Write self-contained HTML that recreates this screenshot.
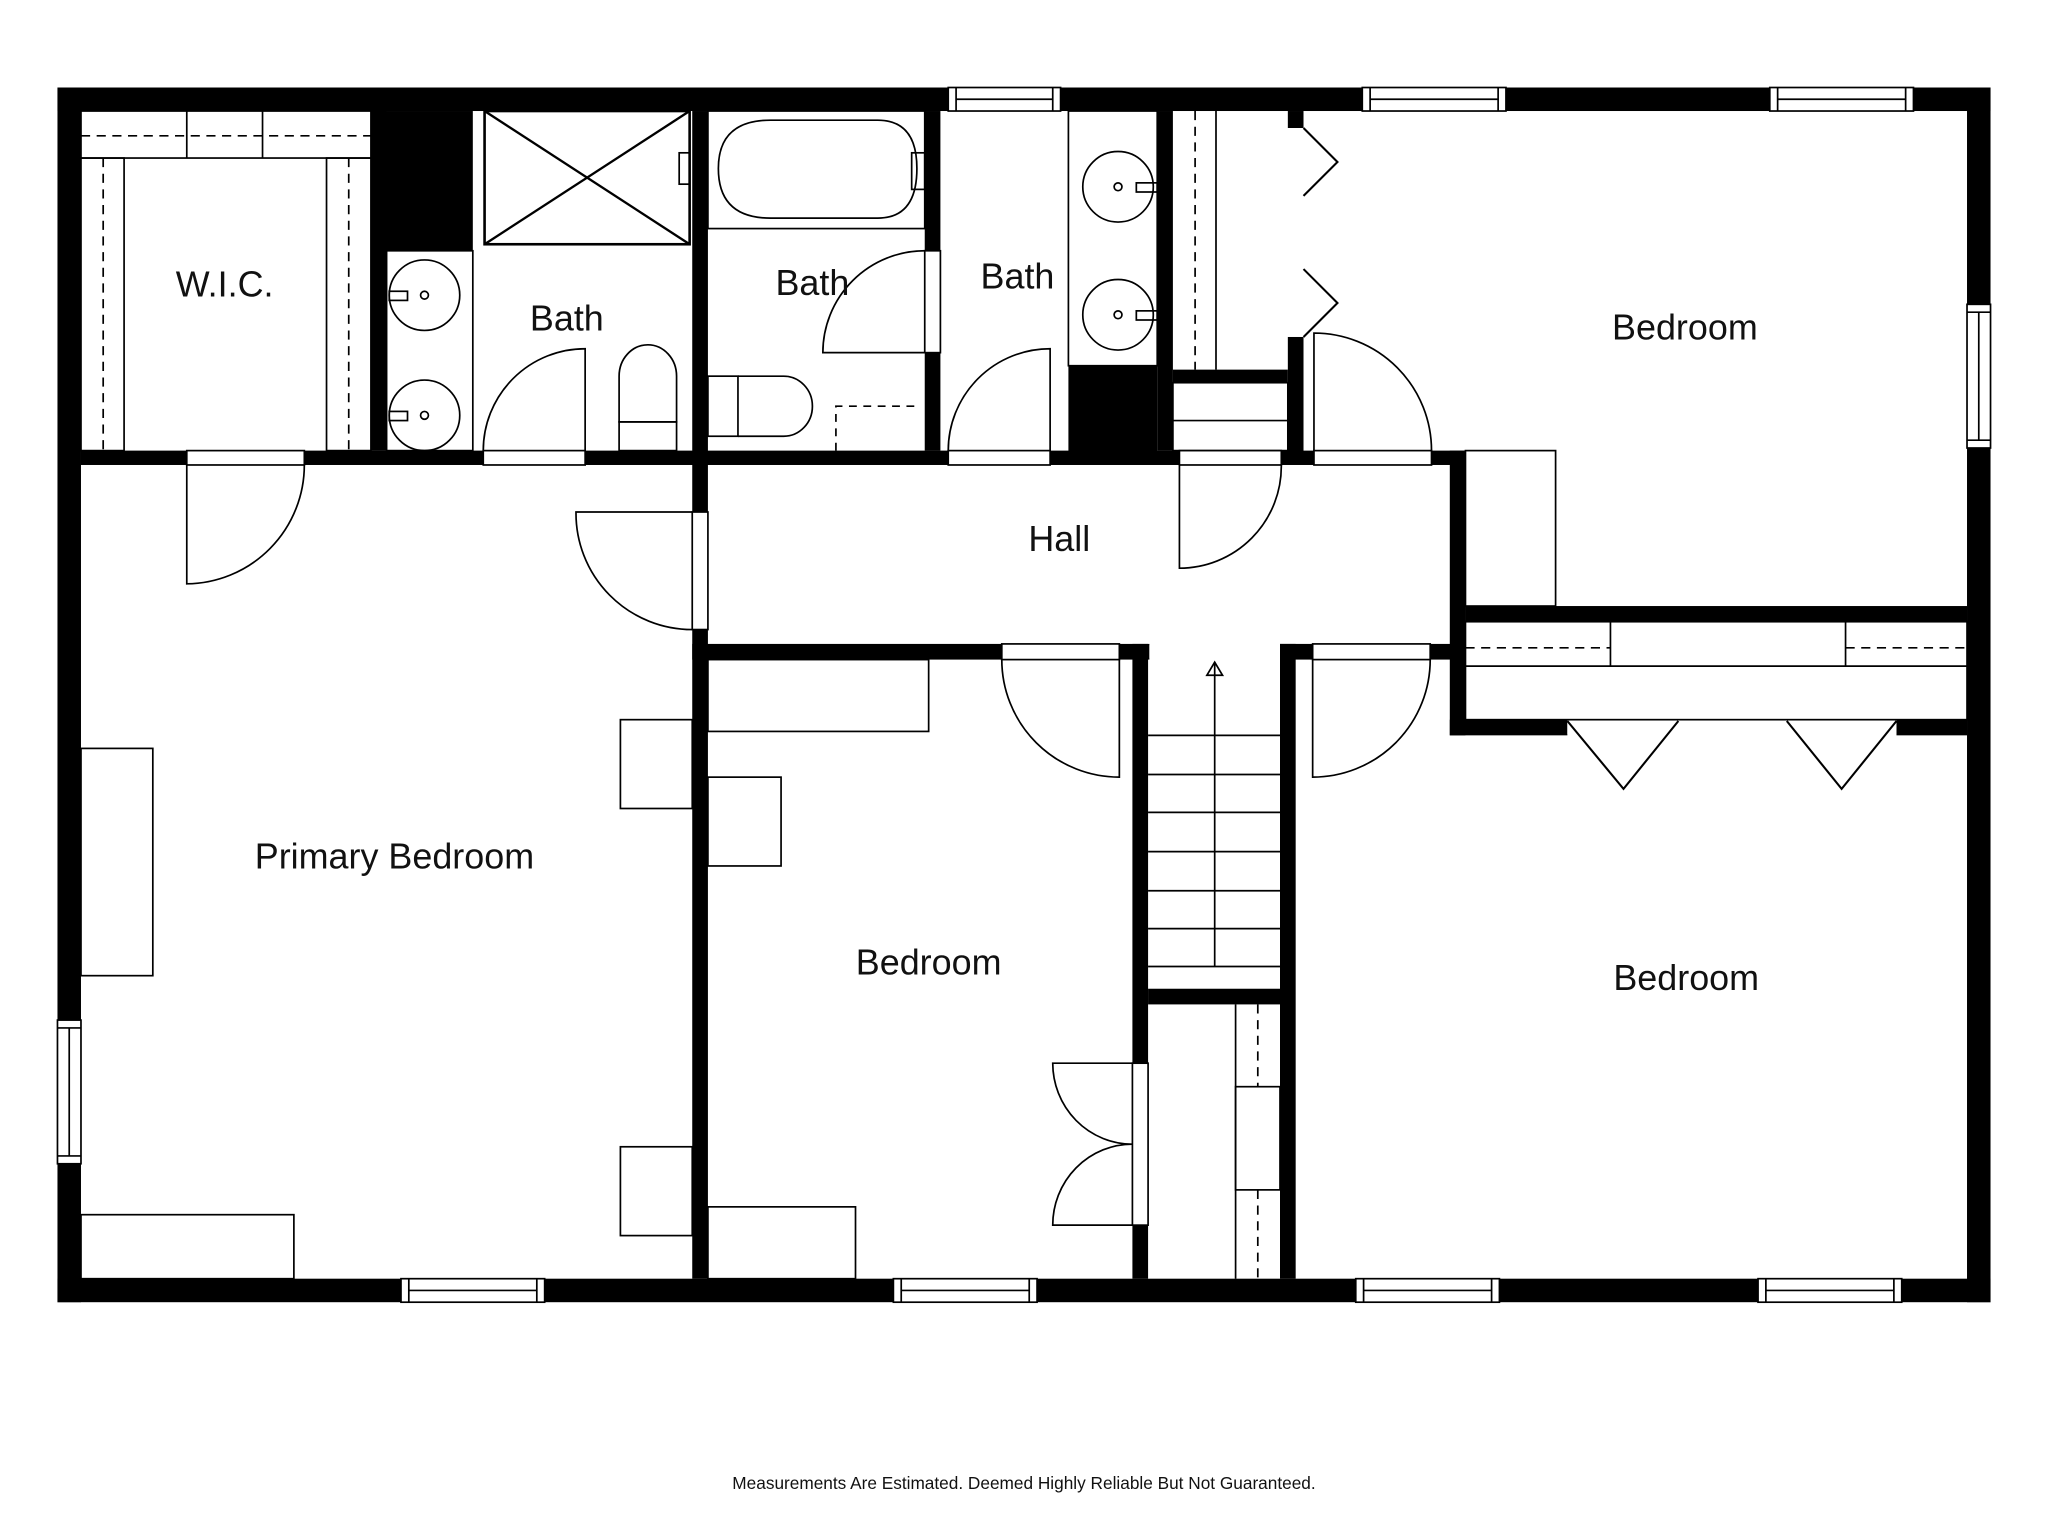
<!DOCTYPE html>
<html><head><meta charset="utf-8"><style>html,body{margin:0;padding:0;background:#fff}svg{display:block}text{font-family:"Liberation Sans",sans-serif;fill:#111}</style></head><body>
<svg width="2048" height="1536" viewBox="0 0 1568 1176" xmlns="http://www.w3.org/2000/svg">
<rect width="1568" height="1176" fill="#fff"/>
<g fill="none" stroke="#000" stroke-width="1.3">
<rect x="62" y="85" width="222" height="36"/><line x1="143" y1="85" x2="143" y2="121"/><line x1="201" y1="85" x2="201" y2="121"/>
<line x1="62" y1="104" x2="284" y2="104" stroke-dasharray="7,5"/>
<rect x="62" y="121" width="33" height="224"/><rect x="250" y="121" width="34" height="224"/>
<line x1="79" y1="121" x2="79" y2="345" stroke-dasharray="7,5"/><line x1="267" y1="121" x2="267" y2="345" stroke-dasharray="7,5"/>
<rect x="296" y="192" width="66" height="153"/>
<circle cx="325" cy="226" r="27"/><circle cx="325" cy="318" r="27"/><circle cx="325" cy="226" r="3"/><circle cx="325" cy="318" r="3"/>
<rect x="298" y="223" width="14" height="7"/><rect x="298" y="315" width="14" height="7"/>
<rect x="371" y="85" width="157" height="102" stroke-width="2"/><line x1="371" y1="85" x2="528" y2="187" stroke-width="1.8"/><line x1="371" y1="187" x2="528" y2="85" stroke-width="1.8"/>
<rect x="520" y="117" width="8" height="24"/>
<path d="M474,323 L474,288 A22,24 0 0 1 518,288 L518,323 Z"/><rect x="474" y="323" width="44" height="22"/>
<rect x="542" y="85" width="166" height="90"/><path d="M590,92 L672,92 Q702,92 702,129 Q702,167 672,167 L590,167 Q550,167 550,129 Q550,92 590,92 Z"/>
<rect x="698" y="117" width="10" height="28"/>
<rect x="542" y="288" width="23" height="46"/><path d="M565,288 L600,288 A22,23 0 0 1 600,334 L565,334"/>
<path d="M640,345 L640,311 L705,311" stroke-dasharray="6,5"/>
<rect x="818" y="85" width="68" height="195"/>
<circle cx="856" cy="143" r="27"/><circle cx="856" cy="241" r="27"/><circle cx="856" cy="143" r="3"/><circle cx="856" cy="241" r="3"/>
<rect x="870" y="140" width="16" height="7"/><rect x="870" y="238" width="16" height="7"/>
<line x1="931" y1="85" x2="931" y2="283"/><line x1="915" y1="85" x2="915" y2="283" stroke-dasharray="7,5"/>
<rect x="898" y="293" width="88" height="52"/><line x1="898" y1="322" x2="986" y2="322"/>
<rect x="1122" y="345" width="69" height="119"/>
<rect x="1122" y="476" width="384" height="75"/><line x1="1122" y1="510" x2="1506" y2="510"/>
<line x1="1233" y1="476" x2="1233" y2="510"/><line x1="1413" y1="476" x2="1413" y2="510"/>
<line x1="1122" y1="496" x2="1233" y2="496" stroke-dasharray="7,5"/><line x1="1413" y1="496" x2="1506" y2="496" stroke-dasharray="7,5"/>
<rect x="62" y="573" width="55" height="174"/><rect x="475" y="551" width="55" height="68"/><rect x="475" y="878" width="55" height="68"/><rect x="62" y="930" width="163" height="49"/>
<rect x="542" y="505" width="169" height="55"/><rect x="542" y="595" width="56" height="68"/><rect x="542" y="924" width="113" height="55"/>
<line x1="930" y1="507" x2="930" y2="740"/><path d="M924,517 L930,507 L936,517 Z"/>
<g><line x1="879" y1="563" x2="980" y2="563"/><line x1="879" y1="593" x2="980" y2="593"/><line x1="879" y1="622" x2="980" y2="622"/><line x1="879" y1="652" x2="980" y2="652"/><line x1="879" y1="682" x2="980" y2="682"/><line x1="879" y1="711" x2="980" y2="711"/><line x1="879" y1="740" x2="980" y2="740"/></g>
<line x1="946" y1="769" x2="946" y2="979"/><rect x="946" y="832" width="34" height="79"/>
<line x1="963" y1="769" x2="963" y2="832" stroke-dasharray="7,5"/><line x1="963" y1="911" x2="963" y2="979" stroke-dasharray="7,5"/>
</g>
<g fill="#000">
<rect x="44" y="67" width="1480" height="18"/><rect x="44" y="979" width="1480" height="18"/>
<rect x="44" y="67" width="18" height="930"/><rect x="1506" y="67" width="18" height="930"/>
<rect x="62" y="345" width="1060" height="11"/>
<rect x="284" y="85" width="12" height="260"/><rect x="284" y="85" width="78" height="107"/>
<rect x="530" y="85" width="12" height="894"/>
<rect x="708" y="85" width="12" height="260"/>
<rect x="818" y="280" width="68" height="70"/>
<rect x="886" y="85" width="12" height="260"/>
<rect x="898" y="283" width="88" height="10"/>
<rect x="986" y="85" width="12" height="13"/><rect x="986" y="258" width="12" height="90"/>
<rect x="530" y="493" width="350" height="12"/><rect x="980" y="493" width="142" height="12"/>
<rect x="867" y="493" width="12" height="486"/><rect x="980" y="493" width="12" height="486"/>
<rect x="879" y="757" width="101" height="12"/>
<rect x="1110" y="345" width="12" height="218"/>
<rect x="1122" y="464" width="384" height="12"/>
<rect x="1110" y="551" width="90" height="12"/><rect x="1452" y="551" width="54" height="12"/>
</g>
<g fill="#fff" stroke="#000" stroke-width="1.3">
<rect x="143" y="345" width="90" height="11"/><rect x="370" y="345" width="78" height="11"/><rect x="726" y="345" width="78" height="11"/>
<rect x="903" y="345" width="78" height="11"/><rect x="1006" y="345" width="90" height="11"/>
<rect x="530" y="392" width="12" height="90"/><rect x="708" y="192" width="12" height="78"/>
<rect x="767" y="493" width="90" height="12"/><rect x="1005" y="493" width="90" height="12"/>
<rect x="867" y="814" width="12" height="124"/>
<rect x="880" y="494" width="100" height="10" stroke="none"/>
<rect x="1200" y="552" width="252" height="10" stroke="none"/>
<rect x="726" y="67" width="86" height="18"/><rect x="1043" y="67" width="110" height="18"/><rect x="1355" y="67" width="110" height="18"/>
<rect x="1506" y="233" width="18" height="110"/><rect x="44" y="781" width="18" height="110"/>
<rect x="307" y="979" width="110" height="18"/><rect x="684" y="979" width="110" height="18"/><rect x="1038" y="979" width="110" height="18"/><rect x="1346" y="979" width="110" height="18"/>
</g>
<g stroke="#000" stroke-width="1.3" fill="none">
<path d="M732,67V85M806,67V85M732,76H806"/><path d="M1049,67V85M1147,67V85M1049,76H1147"/><path d="M1361,67V85M1459,67V85M1361,76H1459"/>
<path d="M1506,239H1524M1506,337H1524M1515,239V337"/><path d="M44,787H62M44,885H62M53,787V885"/>
<path d="M313,979V997M411,979V997M313,988H411"/><path d="M690,979V997M788,979V997M690,988H788"/><path d="M1044,979V997M1142,979V997M1044,988H1142"/><path d="M1352,979V997M1450,979V997M1352,988H1450"/>
<path d="M143,356 L143,447 A91,91 0 0 0 233,356"/>
<path d="M448,345 L448,267 A78,78 0 0 0 370,345"/>
<path d="M530,392 L441,392 A89,89 0 0 0 530,482"/>
<path d="M708,270 L630,270 A78,78 0 0 1 708,192"/>
<path d="M804,345 L804,267 A78,78 0 0 0 726,345"/>
<path d="M903,356 L903,435 A78,78 0 0 0 981,356"/>
<path d="M1006,345 L1006,255 A90,90 0 0 1 1096,345"/>
<path d="M857,505 L857,595 A90,90 0 0 1 767,505"/>
<path d="M1005,505 L1005,595 A90,90 0 0 0 1095,505"/>
<path d="M867,814 L806,814 A61,62 0 0 0 867,876 M867,938 L806,938 A61,62 0 0 1 867,876"/>
<path d="M998,98 L1024,124 L998,150 M998,206 L1024,232 L998,258" stroke-width="1.6"/>
<path d="M1200,552 L1243,604 L1285,552 M1368,552 L1410,604 L1452,552" stroke-width="1.6"/>
</g>
<g font-size="27.5" text-anchor="middle">
<text x="172" y="227">W.I.C.</text><text x="434" y="253">Bath</text><text x="622" y="226">Bath</text><text x="779" y="221">Bath</text>
<text x="1290" y="260">Bedroom</text><text x="811" y="422">Hall</text><text x="302" y="665">Primary Bedroom</text>
<text x="711" y="746">Bedroom</text><text x="1291" y="758">Bedroom</text>
<text x="784" y="1140" font-size="13.2">Measurements Are Estimated. Deemed Highly Reliable But Not Guaranteed.</text>
</g>
</svg>
</body></html>
